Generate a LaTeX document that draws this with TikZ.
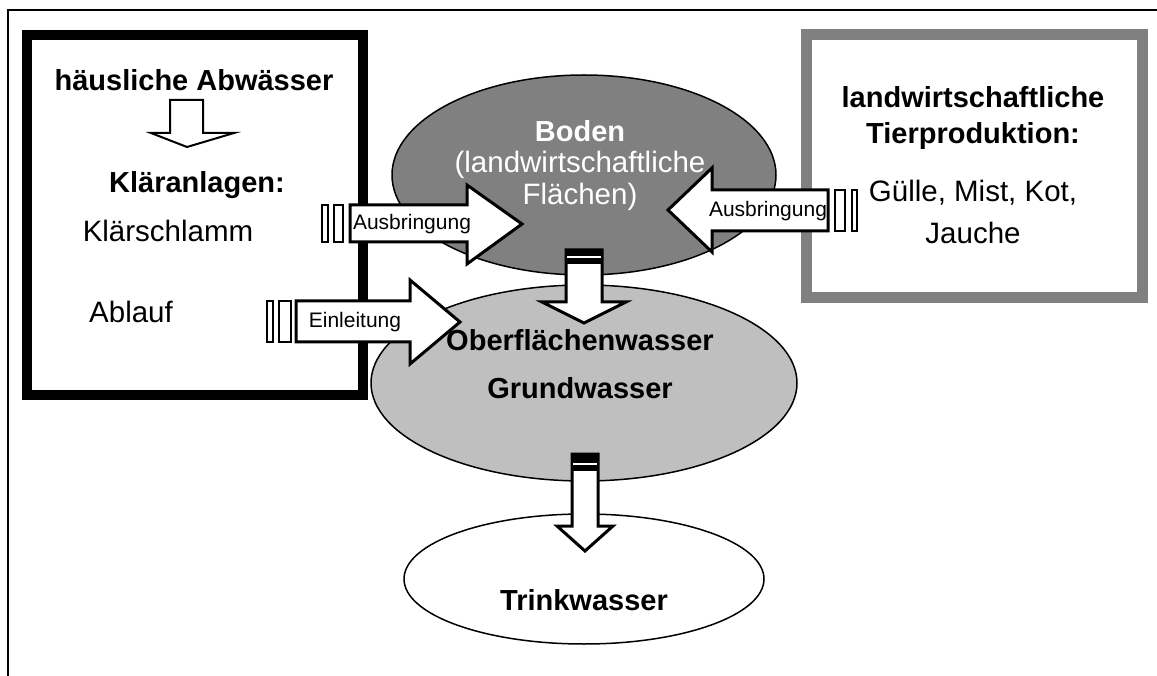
\documentclass[tikz,border=0pt]{standalone}
\usepackage{fontspec}
\setmainfont{Liberation Sans}
\begin{document}
\begin{tikzpicture}[x=1pt,y=-1pt,
  every node/.style={inner sep=0pt,outer sep=0pt},
  big/.style={font=\fontsize{29.5}{35}\selectfont},
  bigb/.style={font=\fontsize{29}{35}\selectfont\bfseries},
  small/.style={font=\fontsize{21}{25}\selectfont},
  blk/.style={draw=black,line width=3pt,fill=white,line join=miter},
  bar/.style={draw=black,line width=2.5pt,fill=white},
  ell/.style={draw=black,line width=1.5pt}]
\useasboundingbox (0,0) rectangle (1157,676);
% outer frame
\draw[line width=2pt] (8,676) -- (8,10) -- (1157,10);
% left box
\node[draw=black,line width=10pt,minimum width=336pt,minimum height=360pt] (lbox) at (195,215) {};
% right box
\node[draw=black!50,line width=11pt,minimum width=336pt,minimum height=263pt] (rbox) at (974,166.5) {};
% ellipses
\draw[ell,fill=black!50] (584,175) ellipse [x radius=192,y radius=100];
\node (boden) at (584,175) {};
\draw[ell,fill=black!25] (584,383) ellipse [x radius=213,y radius=98];
\node (ober) at (584,383) {};
\draw[ell,fill=white] (584,579) ellipse [x radius=180,y radius=65];
\node (trink) at (584,579) {};
% down arrow in left box
\draw[draw=black,line width=2pt,fill=white] (170,100) -- (203,100) -- (203,133) -- (234,133) -- (187,147) -- (151,133) -- (170,133) -- cycle;
% left Ausbringung arrow
\draw[bar] (322,205) rectangle (328,242);
\draw[bar] (334,205) rectangle (343,242);
\draw[blk] (350,205) -- (467,205) -- (467,185) -- (522,224) -- (467,264) -- (467,242) -- (350,242) -- cycle;
% Einleitung arrow
\draw[bar] (267,301) rectangle (273,342);
\draw[bar] (279,301) rectangle (291,342);
\draw[blk] (296,301) -- (410,301) -- (410,280) -- (460,322) -- (410,364) -- (410,342) -- (296,342) -- cycle;
% right Ausbringung arrow
\draw[bar] (835,190) rectangle (845,231);
\draw[bar] (852,190) rectangle (857,231);
\draw[blk] (828,190) -- (712,190) -- (712,168) -- (668,210) -- (712,252) -- (712,231) -- (828,231) -- cycle;
% down arrow Boden -> Ober
\draw[blk] (566,250) -- (602,250) -- (602,302) -- (626,302) -- (584,323) -- (542,302) -- (566,302) -- cycle;
\fill[black] (565,249) rectangle (603,264);
\fill[white] (567,256) rectangle (601,258);
% down arrow Grund -> Trink
\draw[blk] (572,454) -- (598,454) -- (598,526) -- (613,526) -- (585,551) -- (557,526) -- (572,526) -- cycle;
\fill[black] (571,453) rectangle (599,471);
\fill[white] (573,463) rectangle (597,465);
% texts left box
\node[bigb] (habw) at (194,80) {häusliche Abwässer};
\node[bigb] (klaer) at (197,185) {Kläranlagen:};
\node[big] (kschl) at (168,231) {Klärschlamm};
\node[big] (ablauf) at (131,312) {Ablauf};
% right box texts
\node[bigb] (lw) at (973,97) {landwirtschaftliche};
\node[bigb] (tp) at (973,136) {Tierproduktion:};
\node[big] (gm) at (973,193) {Gülle, Mist, Kot,};
\node[big] (jau) at (973,233) {Jauche};
% arrow labels
\node[small] (aus1) at (412,224) {Ausbringung};
\node[small] (ein) at (355,322) {Einleitung};
\node[small] (aus2) at (768,211) {Ausbringung};
% ellipse texts
\node[bigb,text=white] (bt1) at (580,131) {Boden};
\node[big,text=white] (bt2) at (580,165) {(landwirtschaftliche};
\node[big,text=white] (bt3) at (580,197) {Flächen)};
\node[bigb] (ot1) at (580,340) {Oberflächenwasser};
\node[bigb] (ot2) at (580,388) {Grundwasser};
\node[bigb] (tt) at (584,600) {Trinkwasser};
\end{tikzpicture}
\end{document}
